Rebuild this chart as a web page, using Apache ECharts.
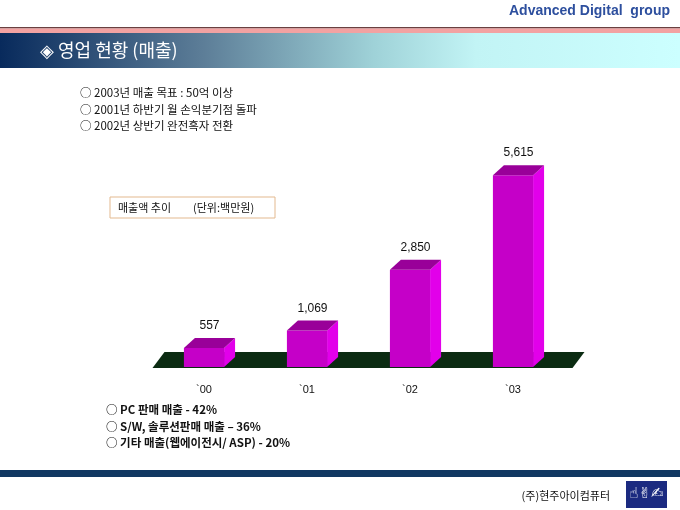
<!DOCTYPE html>
<html><head><meta charset="utf-8">
<script src="https://cdn.jsdelivr.net/npm/echarts@6/dist/echarts.min.js"></script>
<style>html,body{margin:0;padding:0;background:#fff}#c{width:680px;height:510px}</style>
</head><body><div id="c"></div>
<script>
const categories = ['`00', '`01', '`02', '`03'];
const sales = [557, 1069, 2850, 5615];
const brandText = 'Advanced Digital  group';
const titleText = '◈ 영업 현황 (매출)';
const topNotes = ['○ 2003년 매출 목표 : 50억 이상', '○ 2001년 하반기 월 손익분기점 돌파', '○ 2002년 상반기 완전흑자 전환'];
const legendTitle = '매출액 추이';
const legendUnit = '(단위:백만원)';
const bottomNotes = ['○ PC 판매 매출 - 42%', '○ S/W, 솔루션판매 매출 – 36%', '○ 기타 매출(웹에이전시/ ASP) - 20%'];
const footerText = '(주)현주아이컴퓨터';

const KR = '"Noto Sans CJK KR", "Noto Sans", sans-serif';
const fmt = v => v.toLocaleString('en-US');

const chart = echarts.init(document.getElementById('c'), null, {renderer: 'canvas'});

const graphics = [
  {type: 'text', right: 10, top: 4, style: {text: brandText, font: 'bold 14px "Liberation Sans", Arial, sans-serif', fill: '#2d4f9e'}},
  {type: 'rect', shape: {x: 0, y: 27, width: 680, height: 1.5}, style: {fill: '#6a4040'}},
  {type: 'rect', shape: {x: 0, y: 28.5, width: 680, height: 4.5}, style: {fill: '#f2a2a2'}},
  {type: 'rect', shape: {x: 0, y: 33, width: 680, height: 35}, style: {fill: new echarts.graphic.LinearGradient(0, 0, 1, 0, [
    {offset: 0, color: '#082a5c'}, {offset: 0.3, color: '#5d7e98'}, {offset: 0.55, color: '#9fd2d8'}, {offset: 0.7, color: '#c2f4f5'}, {offset: 1, color: '#ccffff'}])}},
  {type: 'text', x: 40, y: 50, style: {text: titleText, font: '18px ' + KR, fill: '#ffffff', verticalAlign: 'middle'}},
  ...topNotes.map((t, i) => ({type: 'text', x: 80, y: 93 + i * 16.5, style: {text: t, font: '11.5px ' + KR, fill: '#111', verticalAlign: 'middle'}})),
  {type: 'rect', shape: {x: 110, y: 197, width: 165, height: 21}, style: {fill: '#fff', stroke: '#e3b98f', lineWidth: 1}},
  {type: 'text', x: 118, y: 207.5, style: {text: legendTitle, font: '11px ' + KR, fill: '#111', verticalAlign: 'middle'}},
  {type: 'text', x: 193, y: 207.5, style: {text: legendUnit, font: '11px ' + KR, fill: '#111', verticalAlign: 'middle'}},
  ...bottomNotes.map((t, i) => ({type: 'text', x: 106, y: 410 + i * 16.5, style: {text: t, font: 'bold 11.5px ' + KR, fill: '#111', verticalAlign: 'middle'}})),
  {type: 'rect', shape: {x: 0, y: 470, width: 680, height: 7}, style: {fill: '#113862'}},
  {type: 'text', x: 610, y: 496, style: {text: footerText, font: '11px ' + KR, fill: '#111', align: 'right', verticalAlign: 'middle'}},
  {type: 'rect', shape: {x: 626, y: 481, width: 41, height: 27}, style: {fill: '#1b2a80'}},
  {type: 'text', x: 646.5, y: 494.5, style: {text: '☝✌✍', font: '15px "DejaVu Sans"', fill: '#ffffff', align: 'center', verticalAlign: 'middle'}}
];

const DX = 11, DY = -10;

chart.setOption({
  animation: false,
  backgroundColor: '#ffffff',
  grid: {left: 152.5, right: 115.5, top: 162, bottom: 143},
  xAxis: {
    type: 'category', data: categories,
    axisLine: {show: false}, axisTick: {show: false}, splitLine: {show: false},
    axisLabel: {color: '#111', fontSize: 11, fontFamily: '"Liberation Sans", Arial, sans-serif', margin: 17}
  },
  yAxis: {type: 'value', min: 0, max: 6000, show: false},
  graphic: graphics,
  series: [
    {
      type: 'custom', silent: true, z: 1,
      data: [[0, 0]],
      renderItem(params, api) {
        const cs = params.coordSys;
        const yb = cs.y + cs.height + 1;
        const l = cs.x, r = cs.x + cs.width;
        return {type: 'polygon', shape: {points: [[l, yb], [r + 8, yb], [r + 20, yb - 16], [l + 12, yb - 16]]}, style: {fill: '#0b2b12'}};
      }
    },
    {
      type: 'custom', z: 2,
      data: sales.map((v, i) => [i, v]),
      encode: {x: 0, y: 1},
      renderItem(params, api) {
        const i = api.value(0), v = api.value(1);
        const base = api.coord([i, 0]);
        const top = api.coord([i, v]);
        const bw = api.size([1, 0])[0] * 0.39;
        const l = base[0] - bw / 2, r = base[0] + bw / 2, yb = base[1], yt = top[1];
        return {type: 'group', children: [
          {type: 'polygon', shape: {points: [[r, yt], [r + DX, yt + DY], [r + DX, yb + DY], [r, yb]]}, style: {fill: '#e200ea'}},
          {type: 'rect', shape: {x: l, y: yt, width: bw, height: yb - yt}, style: {fill: '#c500c8'}},
          {type: 'polygon', shape: {points: [[l, yt], [l + DX, yt + DY], [r + DX, yt + DY], [r, yt]]}, style: {fill: '#990099'}},
          {type: 'text', style: {text: fmt(v), x: (l + r + DX) / 2, y: yt + DY - 6, align: 'center', verticalAlign: 'bottom', fill: '#111', font: '12px "Liberation Sans", Arial, sans-serif'}}
        ]};
      }
    }
  ]
});
</script></body></html>
